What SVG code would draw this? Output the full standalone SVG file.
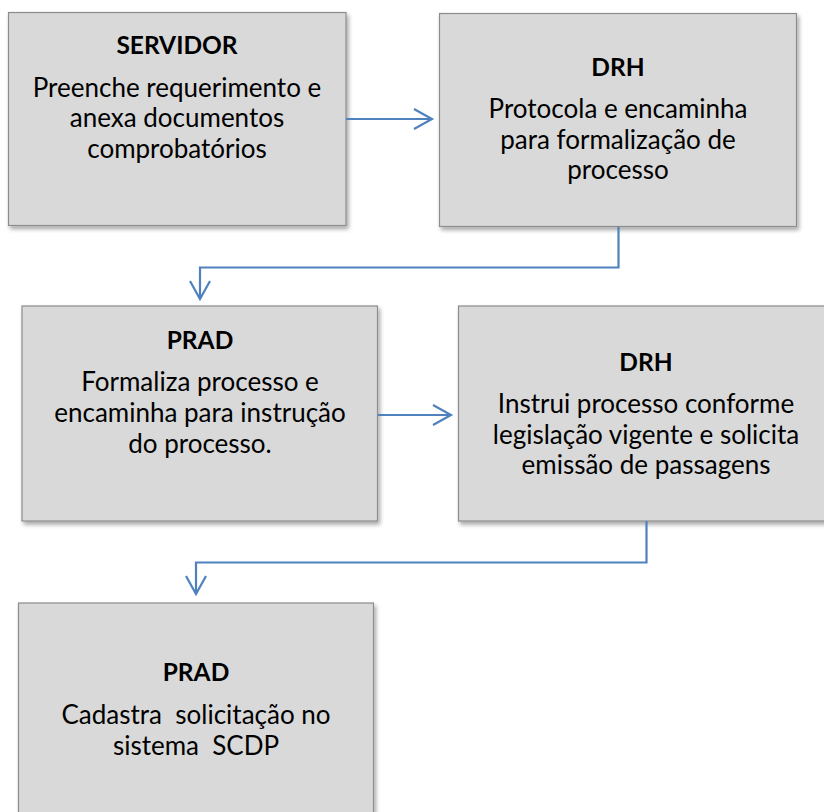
<svg xmlns="http://www.w3.org/2000/svg" width="824" height="812" viewBox="0 0 824 812">
<style>
.box{fill:#d9d9d9;stroke:#8c8c8c;stroke-width:1.2;filter:url(#sh)}
.t{font-family:Lato,"Open Sans","Liberation Sans",sans-serif;font-size:26px;fill:#000;text-anchor:middle;white-space:pre}
.b{font-weight:bold;font-size:24.5px}
.c{fill:none;stroke:#4f81bd;stroke-width:2.2}
</style>
<defs>
<filter id="sh" x="-5%" y="-5%" width="115%" height="115%">
<feDropShadow dx="2" dy="3" stdDeviation="2" flood-color="#000" flood-opacity="0.35"/>
</filter>
<marker id="ah" markerWidth="22" markerHeight="24" refX="19" refY="11" orient="auto" markerUnits="userSpaceOnUse">
<path d="M1,1 L19,11 L1,21" fill="none" stroke="#4f81bd" stroke-width="2.2"/>
</marker>
</defs>
<rect width="824" height="812" fill="#fff"/>
<g id="n1">
<rect class="box" x="8.5" y="12.5" width="337.5" height="213"/>
<text class="t b" x="177" y="54">SERVIDOR</text>
<text class="t" x="177" y="96.5">Preenche requerimento e</text>
<text class="t" x="177" y="127">anexa documentos</text>
<text class="t" x="177" y="157.5">comprobatórios</text>
</g>
<g id="n2">
<rect class="box" x="439.5" y="13.5" width="357" height="213"/>
<text class="t b" x="618" y="76">DRH</text>
<text class="t" x="618" y="118">Protocola e encaminha</text>
<text class="t" x="618" y="148.5">para formalização de</text>
<text class="t" x="618" y="179">processo</text>
</g>
<g id="n3">
<rect class="box" x="22" y="306" width="355.5" height="215"/>
<text class="t b" x="200" y="349">PRAD</text>
<text class="t" x="200" y="390.5">Formaliza processo e</text>
<text class="t" x="200" y="421.5">encaminha para instrução</text>
<text class="t" x="200" y="452.5">do processo.</text>
</g>
<g id="n4">
<rect class="box" x="458.5" y="306" width="380" height="215"/>
<text class="t b" x="646" y="371">DRH</text>
<text class="t" x="646" y="413">Instrui processo conforme</text>
<text class="t" x="646" y="443.5">legislação vigente e solicita</text>
<text class="t" x="646" y="474">emissão de passagens</text>
</g>
<g id="n5">
<rect class="box" x="18.5" y="603" width="355" height="230"/>
<text class="t b" x="196" y="681">PRAD</text>
<text class="t" x="196" y="724">Cadastra  solicitação no</text>
<text class="t" x="196" y="755">sistema  SCDP</text>
</g>
<g id="connectors">
<path class="c" d="M346,119 L432,119" marker-end="url(#ah)"/>
<path class="c" d="M618.5,227 L618.5,267.5 L200,267.5 L200,299" marker-end="url(#ah)"/>
<path class="c" d="M378,415 L451,415" marker-end="url(#ah)"/>
<path class="c" d="M646.5,521 L646.5,562.5 L196,562.5 L196,594" marker-end="url(#ah)"/>
</g>
</svg>
